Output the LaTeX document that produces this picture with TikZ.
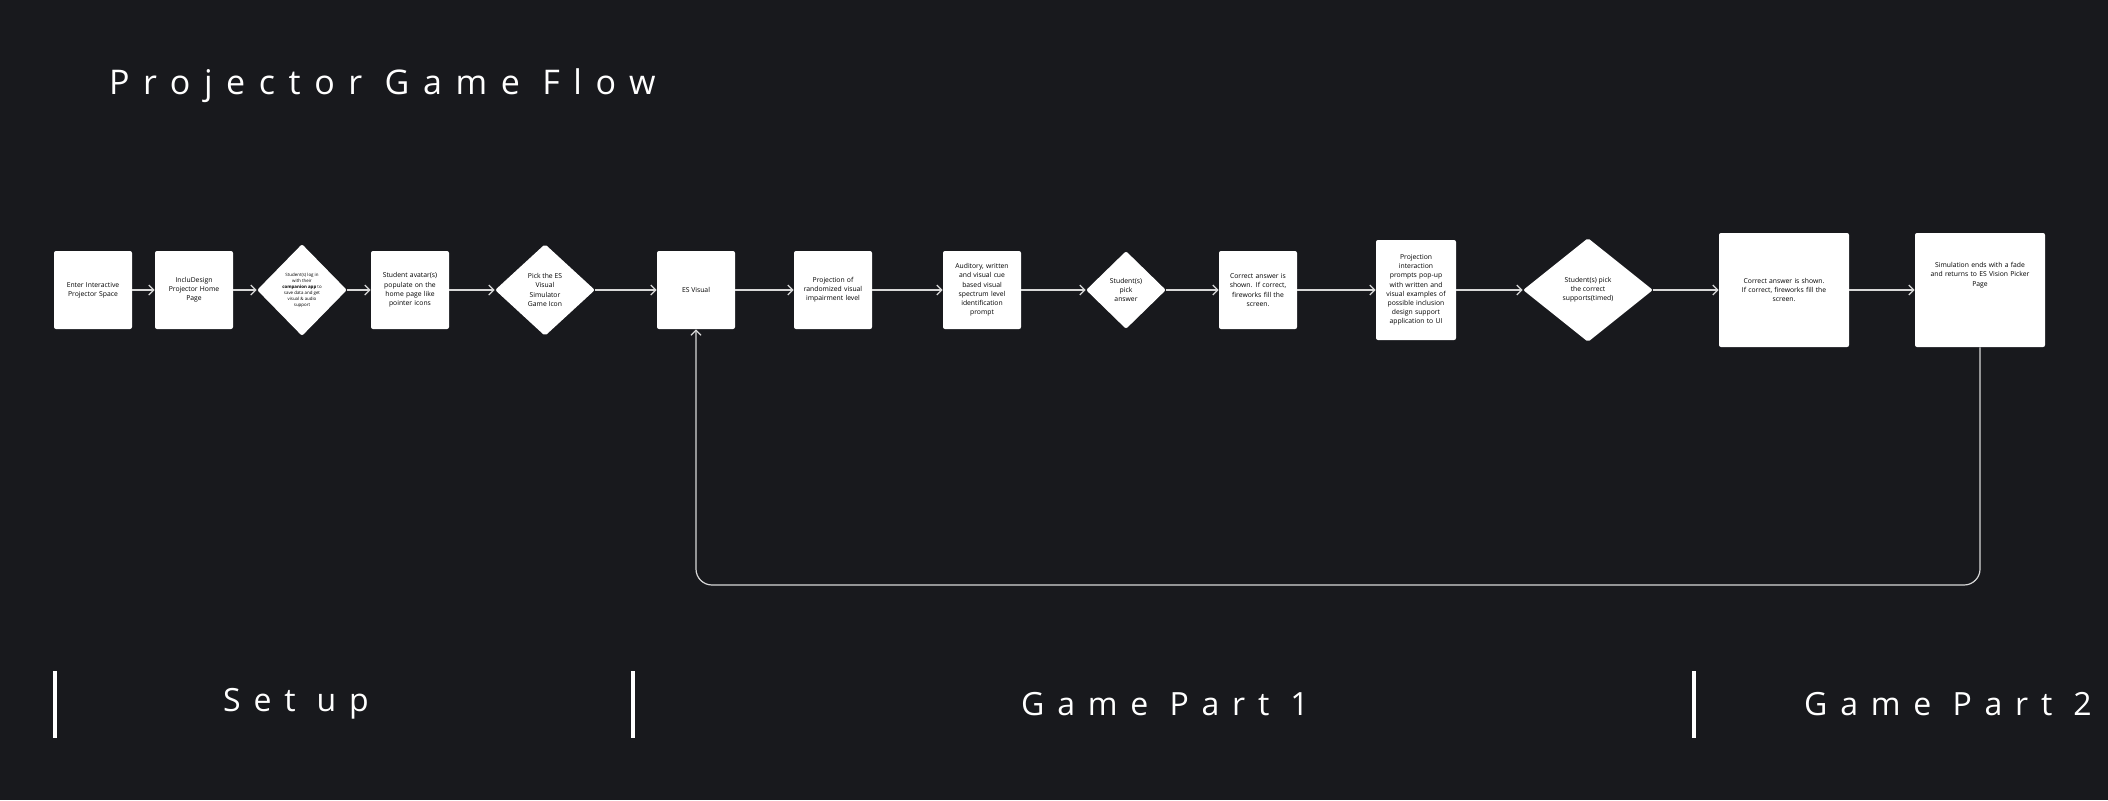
\documentclass[tikz,border=0pt]{standalone}
\usepackage{fontspec}
\setmainfont{Open Sans}
\usetikzlibrary{shapes.geometric,arrows.meta,positioning}
\definecolor{bgdark}{HTML}{18191D}
\definecolor{linegray}{HTML}{D8D8D8}
\begin{document}
\begin{tikzpicture}[x=0.5pt,y=-0.5pt,
    stage/.style={draw=none,fill=white,rounded corners=1pt,align=center,inner sep=1pt,font=\fontsize{3.4}{4.6}\selectfont},
    choice/.style={diamond,fill=white,rounded corners=1pt,align=center,inner sep=0pt,font=\fontsize{3.4}{4.6}\selectfont},
    flow/.style={draw=linegray,line width=0.6pt,-{Straight Barb[length=2.5pt,width=5pt]}},
    phase/.style={font=\fontsize{16}{18}\selectfont\addfontfeature{LetterSpace=40},text=white}]
  \fill[bgdark] (0,0) rectangle (2108,800);
  \useasboundingbox (0,0) rectangle (2108,800);

  % Title
  \node[font=\fontsize{17}{20}\selectfont\addfontfeature{LetterSpace=40},text=white,anchor=west] (title) at (102,86) {Projector Game Flow};

  % Set up
  \node[stage,minimum width=39pt,minimum height=39pt,text width=35pt] (enter) at (93,290) {Enter Interactive\\Projector Space};
  \node[stage,minimum width=39pt,minimum height=39pt,text width=35pt] (home) at (194,290) {IncluDesign\\Projector Home\\Page};
  \node[choice,minimum width=45pt,minimum height=46pt,font=\fontsize{2.2}{3}\selectfont] (login) at (302,290) {Student(s) log in\\with their\\\textbf{companion app} to\\save data and get\\visual \& audio\\support};
  \node[stage,minimum width=39pt,minimum height=39pt,text width=37pt] (avatar) at (410,290) {Student avatar(s)\\populate on the\\home page like\\pointer icons};
  \node[choice,minimum width=50pt,minimum height=46pt] (pick) at (545,290) {Pick the ES\\Visual\\Simulator\\Game Icon};

  % Game part 1
  \node[stage,minimum width=39pt,minimum height=39pt] (esvis) at (696,290) {ES Visual};
  \node[stage,minimum width=39pt,minimum height=39pt,text width=37pt] (level) at (833,290) {Projection of\\randomized visual\\impairment level};
  \node[stage,minimum width=39pt,minimum height=39pt,text width=37pt] (cue) at (982,290) {Auditory, written\\and visual cue\\based visual\\spectrum level\\identification\\prompt};
  \node[choice,minimum width=40pt,minimum height=39pt] (answer) at (1126,290) {Student(s)\\pick\\answer};
  \node[stage,minimum width=39pt,minimum height=39pt,text width=37pt] (correct) at (1258,290) {Correct answer is\\shown. If correct,\\fireworks fill the\\screen.};
  \node[stage,minimum width=40pt,minimum height=50pt,text width=38pt] (popup) at (1416,290) {Projection\\interaction\\prompts pop-up\\with written and\\visual examples of\\possible inclusion\\design support\\application to UI};
  \node[choice,minimum width=65pt,minimum height=52pt] (supports) at (1588,290) {Student(s) pick\\the correct\\supports(timed)};

  % Game part 2
  \node[stage,minimum width=65pt,minimum height=57pt,text width=60pt] (shown) at (1784,290) {Correct answer is shown.\\If correct, fireworks fill the\\screen.};
  \node[stage,minimum width=65pt,minimum height=57pt,text width=60pt,text depth=25pt] (ends) at (1980,290) {Simulation ends with a fade\\and returns to ES Vision Picker\\Page};

  % Connectors
  \foreach \a/\b in {enter/home,home/login,login/avatar,avatar/pick,pick/esvis,esvis/level,level/cue,cue/answer,answer/correct,correct/popup,popup/supports,supports/shown,shown/ends}
    \draw[flow] (\a) -- (\b);
  \coordinate (loopR) at (1980,585);
  \coordinate (loopL) at (696,585);
  \draw[flow,rounded corners=8pt] (ends.south) -- (loopR) -- (loopL) -- (esvis.south);

  % Phases
  \foreach \n/\x in {barA/55,barB/633,barC/1694}
    \draw[white,line width=1.6pt] (\x,671) -- (\x,738) coordinate (\n);
  \node[phase] (setup) at (296,704) {Set up};
  \node[phase] (part1) at (1165,704) {Game Part 1};
  \node[phase] (part2) at (1948,704) {Game Part 2};
\end{tikzpicture}
\end{document}
